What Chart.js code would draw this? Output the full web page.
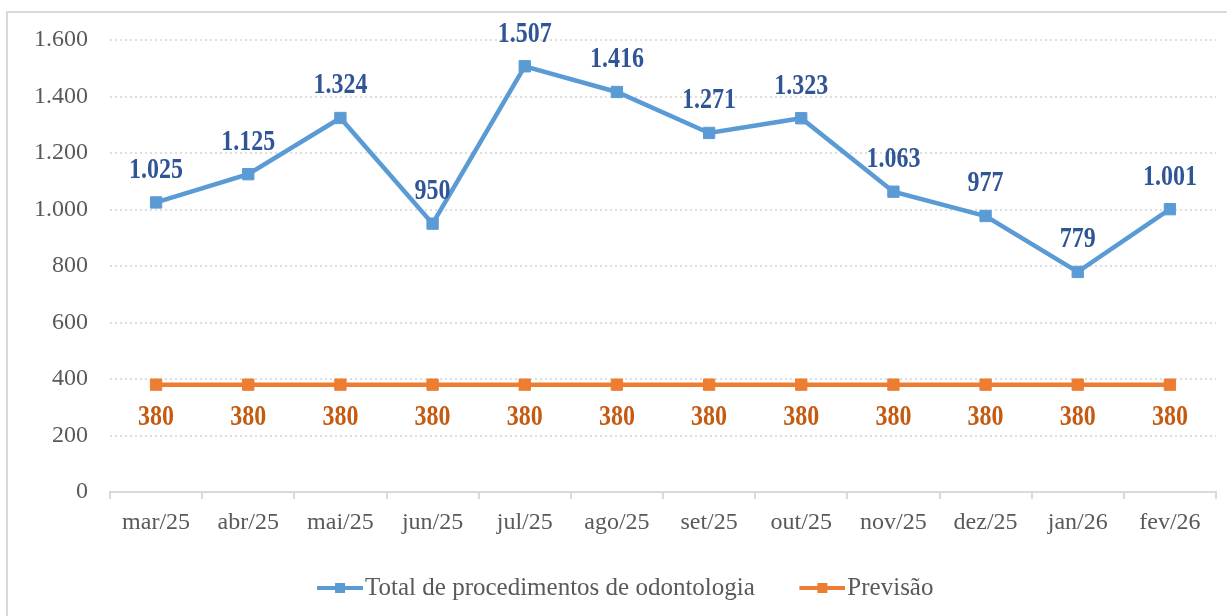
<!DOCTYPE html>
<html>
<head>
<meta charset="utf-8">
<script src="https://cdn.jsdelivr.net/npm/chart.js@4/dist/chart.umd.min.js"></script>
<style>
    body { margin: 0; background: #fff; overflow: hidden; }
    #wrap { position: relative; width: 1227px; height: 616px; }
    #frame { position: absolute; left: 6px; top: 11px; right: 0; bottom: 0; border-left: 2px solid #d9d9d9; border-top: 2px solid #d9d9d9; }
    #chartBox { position: absolute; left: 0; top: 0; width: 1227px; height: 616px; }
</style>
</head>
<body>
<div id="wrap">
    <div id="frame"></div>
    <div id="chartBox"><canvas id="odontoChart"></canvas></div>
</div>
<script>
const months = ['mar/25', 'abr/25', 'mai/25', 'jun/25', 'jul/25', 'ago/25', 'set/25', 'out/25', 'nov/25', 'dez/25', 'jan/26', 'fev/26'];
const totalProcedimentos = [1025, 1125, 1324, 950, 1507, 1416, 1271, 1323, 1063, 977, 779, 1001];
const previsao = [380, 380, 380, 380, 380, 380, 380, 380, 380, 380, 380, 380];
const yTicks = [0, 200, 400, 600, 800, 1000, 1200, 1400, 1600];

const blue = '#5B9BD5';
const orange = '#ED7D31';
const fontFamily = '"Liberation Serif", "Times New Roman", serif';

// number with dot as thousands separator (pt-BR)
function fmt(v) {
    return String(v).replace(/\B(?=(\d{3})+(?!\d))/g, '.');
}

// legend icon: line with a square in the middle, placed at the right of the canvas
function makeIcon(color) {
    const c = document.createElement('canvas');
    c.width = 91;
    c.height = 14;
    const ctx = c.getContext('2d');
    ctx.fillStyle = color;
    ctx.fillRect(45, 5, 46, 4);
    ctx.fillRect(63, 2, 10, 10);
    return c;
}
const legendIcons = [makeIcon(blue), makeIcon(orange)];

// value labels: blue above the points, orange below
const valueLabels = {
    id: 'valueLabels',
    afterDatasetsDraw(chart) {
        const ctx = chart.ctx;
        chart.data.datasets.forEach((ds, i) => {
            const meta = chart.getDatasetMeta(i);
            meta.data.forEach((pt, j) => {
                ctx.save();
                ctx.font = 'bold 24px ' + fontFamily;
                ctx.textAlign = 'center';
                ctx.textBaseline = 'middle';
                ctx.fillStyle = ds.labelColor;
                ctx.translate(pt.x, pt.y + ds.labelOffset);
                ctx.scale(1, 1.2); // the original labels look slightly tall
                ctx.fillText(fmt(ds.data[j]), 0, 0);
                ctx.restore();
            });
        });
    }
};

new Chart(document.getElementById('odontoChart'), {
    type: 'line',
    data: {
        labels: months,
        datasets: [{
            label: 'Total de procedimentos de odontologia',
            data: totalProcedimentos,
            borderColor: blue,
            backgroundColor: blue,
            borderWidth: 4.5,
            pointStyle: 'rect',
            pointRadius: 8,
            pointBorderWidth: 1,
            tension: 0,
            labelColor: '#2F5597',
            labelOffset: -32
        }, {
            label: 'Previsão',
            data: previsao,
            borderColor: orange,
            backgroundColor: orange,
            borderWidth: 4.5,
            pointStyle: 'rect',
            pointRadius: 8,
            pointBorderWidth: 1,
            tension: 0,
            labelColor: '#C55A11',
            labelOffset: 33
        }]
    },
    options: {
        responsive: true,
        maintainAspectRatio: false,
        animation: false,
        layout: {
            padding: { top: 40, left: 0, right: 11, bottom: 5.5 }
        },
        plugins: {
            legend: {
                position: 'bottom',
                labels: {
                    usePointStyle: true,
                    pointStyleWidth: 70,
                    padding: 10,
                    color: '#595959',
                    font: { family: fontFamily, size: 25 },
                    generateLabels(chart) {
                        const items = Chart.defaults.plugins.legend.labels.generateLabels(chart);
                        items.forEach((it, i) => { it.pointStyle = legendIcons[i]; });
                        return items;
                    }
                }
            },
            tooltip: { enabled: false }
        },
        scales: {
            x: {
                offset: true,
                grid: {
                    offset: true,
                    drawOnChartArea: false,
                    drawTicks: true,
                    tickLength: 7,
                    color: '#d9d9d9',
                    lineWidth: 2
                },
                border: { display: true, color: '#d9d9d9', width: 2 },
                ticks: {
                    color: '#595959',
                    padding: 9,
                    maxRotation: 0,
                    font: { family: fontFamily, size: 24 }
                },
                afterFit(scale) { scale.height = 73.5; }
            },
            y: {
                min: 0,
                max: 1600,
                afterBuildTicks(scale) { scale.ticks = yTicks.map(v => ({ value: v })); },
                grid: {
                    drawTicks: false,
                    color: '#dedede',
                    lineWidth: 2
                },
                border: { display: false, dash: [2, 3] },
                ticks: {
                    color: '#595959',
                    padding: 22,
                    font: { family: fontFamily, size: 24 },
                    callback: v => fmt(v)
                },
                afterFit(scale) { scale.width = 110; }
            }
        }
    },
    plugins: [valueLabels]
});
</script>
</body>
</html>
